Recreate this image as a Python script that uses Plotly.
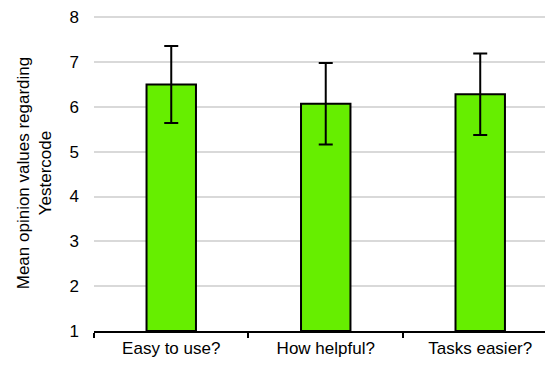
import plotly.graph_objects as go

# Data
questions = ["Easy to use?", "How helpful?", "Tasks easier?"]
mean_scores = [6.5, 6.07, 6.28]
score_sd = [0.86, 0.91, 0.91]
y_ticks = [1, 2, 3, 4, 5, 6, 7, 8]

font_family = "Arial, Liberation Sans, sans-serif"

fig = go.Figure()

fig.add_trace(go.Bar(
    x=questions,
    y=[m - 1 for m in mean_scores],
    base=1,
    width=0.32,
    marker=dict(color="#66ee00", line=dict(color="black", width=2)),
    error_y=dict(type="data", array=score_sd, color="black", thickness=2, width=7),
    showlegend=False
))

# page body adds an 8px margin, so the figure is a bit smaller than the window
fig.update_layout(
    width=545,
    height=358,
    margin=dict(l=86, r=0, t=7, b=35),
    plot_bgcolor="white",
    paper_bgcolor="white",
    font=dict(family=font_family, size=17, color="black"),
    xaxis=dict(
        range=[-0.5, 2.471],
        showline=True,
        linecolor="black",
        linewidth=2,
        ticks="outside",
        tickson="boundaries",
        ticklen=5,
        tickwidth=2,
        tickcolor="black",
        showgrid=False,
        tickfont=dict(size=17),
        ticklabelstandoff=1
    ),
    yaxis=dict(
        # a little headroom so the top gridline at 8 is not clipped
        range=[1, 8.05],
        tickvals=y_ticks,
        showgrid=True,
        gridcolor="#d9d9d9",
        gridwidth=2,
        zeroline=False,
        showline=False,
        ticks="",
        tickfont=dict(size=17),
        ticklabeloverflow="allow",
        ticklabelstandoff=14,
        title=dict(text="Mean opinion values regarding<br>Yestercode", standoff=13,
                   font=dict(size=17))
    )
)

fig.write_html("out.html")
